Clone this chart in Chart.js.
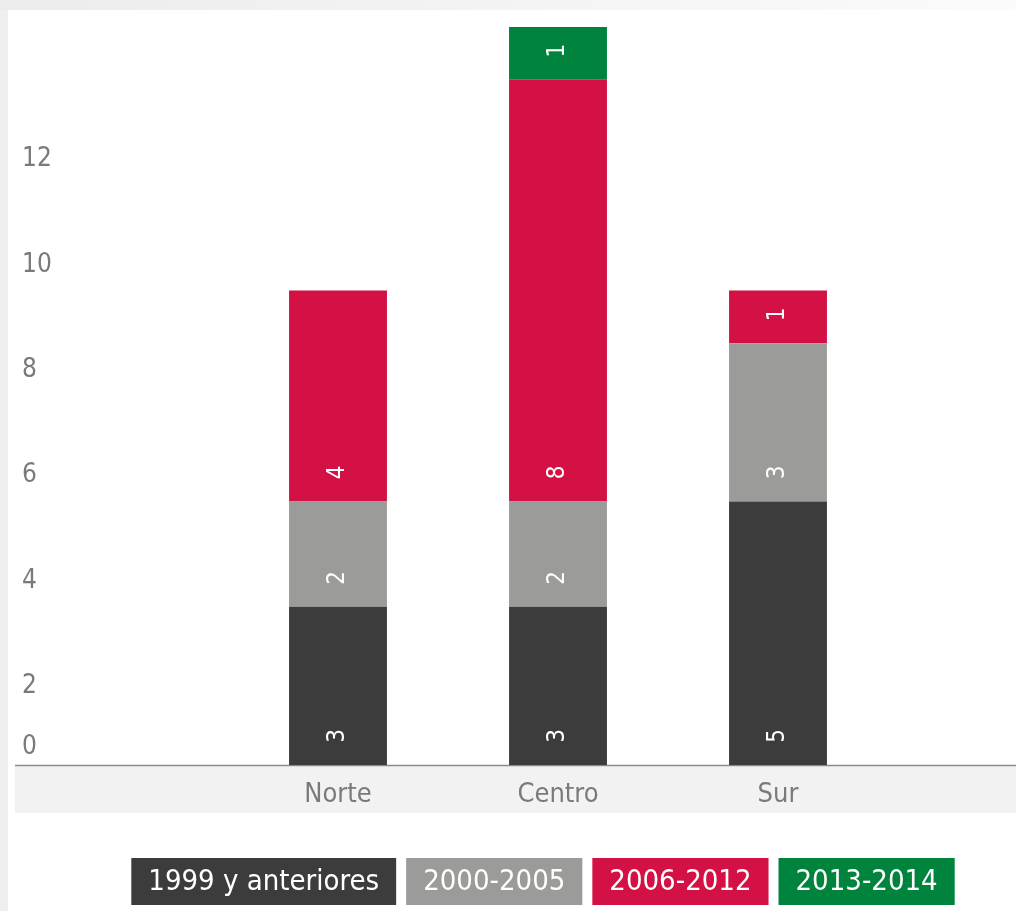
<!DOCTYPE html>
<html>
<head>
<meta charset="utf-8">
<script src="https://cdn.jsdelivr.net/npm/chart.js@4/dist/chart.umd.min.js"></script>
<style>
  html, body { margin: 0; padding: 0; background: #efefef; }
  #wrap { width: 1016px; height: 911px; }
</style>
</head>
<body>
<div id="wrap"><canvas id="regionChart"></canvas></div>
<script>
const categories = ['Norte', 'Centro', 'Sur'];
const seriesNames = ['1999 y anteriores', '2000-2005', '2006-2012', '2013-2014'];
const serie1999 = [3, 3, 5];
const serie2000 = [2, 2, 3];
const serie2006 = [4, 8, 1];
const serie2013 = [0, 1, 0];
const yTickLabels = [0, 2, 4, 6, 8, 10, 12];

const colors = ['#3b3c3b', '#9b9b9a', '#d31145', '#00843d'];
const fontFam = "'Liberation Sans Narrow', 'DejaVu Sans Condensed', 'Roboto Condensed', 'Open Sans', sans-serif";

// page background + x band + axis line
const backdrop = {
  id: 'backdrop',
  beforeDraw(chart) {
    const c = chart.ctx;
    const a = chart.chartArea;
    c.save();
    c.fillStyle = '#efefef';
    c.fillRect(0, 0, chart.width, chart.height);
    const g = c.createLinearGradient(0, 0, chart.width, 0);
    g.addColorStop(0, '#ececec');
    g.addColorStop(1, '#fbfbfb');
    c.fillStyle = g;
    c.fillRect(0, 0, chart.width, 10);
    c.fillStyle = '#ffffff';
    c.fillRect(8, 10, chart.width - 8, chart.height - 10);
    c.fillStyle = '#f2f2f2';
    c.fillRect(15, a.bottom, chart.width - 15, 48);
    c.strokeStyle = '#8a8a8a';
    c.lineWidth = 1.5;
    c.beginPath();
    c.moveTo(15, a.bottom + 0.5);
    c.lineTo(chart.width, a.bottom + 0.5);
    c.stroke();
    c.restore();
  }
};

// rotated value labels near base of each segment
const segLabels = {
  id: 'segLabels',
  afterDatasetsDraw(chart) {
    const c = chart.ctx;
    c.save();
    c.fillStyle = '#ffffff';
    c.font = '24px ' + fontFam;
    c.textAlign = 'center';
    c.textBaseline = 'middle';
    chart.data.datasets.forEach((ds, i) => {
      chart.getDatasetMeta(i).data.forEach((bar, j) => {
        const v = ds.data[j];
        if (!v) return;
        c.save();
        c.translate(bar.x, bar.base - 29);
        c.rotate(-Math.PI / 2);
        c.fillText(String(v), 0, 0);
        c.restore();
      });
    });
    c.restore();
  }
};

// boxed legend with text inside
const boxLegend = {
  id: 'boxLegend',
  afterDraw(chart) {
    const c = chart.ctx;
    c.save();
    c.font = '29px ' + fontFam;
    c.textAlign = 'center';
    c.textBaseline = 'middle';
    const pad = 17, gap = 10, top = 858, h = 47;
    const widths = chart.data.datasets.map(ds => c.measureText(ds.label).width + pad * 2);
    const total = widths.reduce((s, w) => s + w, 0) + gap * (widths.length - 1);
    let x = 543 - total / 2;
    chart.data.datasets.forEach((ds, i) => {
      c.fillStyle = ds.backgroundColor;
      c.fillRect(x, top, widths[i], h);
      c.fillStyle = '#ffffff';
      c.fillText(ds.label, x + widths[i] / 2, top + h / 2 + 1);
      x += widths[i] + gap;
    });
    c.restore();
  }
};

const ctx = document.getElementById('regionChart').getContext('2d');
const regionChart = new Chart(ctx, {
  type: 'bar',
  data: {
    labels: categories,
    datasets: [
      { label: seriesNames[0], data: serie1999, backgroundColor: colors[0] },
      { label: seriesNames[1], data: serie2000, backgroundColor: colors[1] },
      { label: seriesNames[2], data: serie2006, backgroundColor: colors[2] },
      { label: seriesNames[3], data: serie2013, backgroundColor: colors[3] }
    ]
  },
  options: {
    responsive: true,
    maintainAspectRatio: false,
    animation: false,
    layout: { padding: { top: 27, right: 128, bottom: 0, left: 22 } },
    datasets: { bar: { categoryPercentage: 1, barPercentage: 0.445 } },
    plugins: { legend: { display: false }, tooltip: { enabled: false } },
    scales: {
      x: {
        stacked: true,
        grid: { display: false },
        border: { display: false },
        ticks: { color: '#7a7a7a', font: { family: fontFam, size: 27 }, padding: 6 },
        afterFit(scale) { scale.height = 146; }
      },
      y: {
        stacked: true,
        min: 0,
        max: 14,
        grid: { display: false },
        border: { display: false },
        ticks: {
          color: '#7a7a7a',
          font: { family: fontFam, size: 26 },
          crossAlign: 'far',
          labelOffset: 27,
          callback: (v) => Math.round(v / 2) * 2
        },
        afterBuildTicks(scale) {
          // labels sit a little under their value; 0 squeezed above the axis
          scale.ticks = yTickLabels.map(v => ({ value: v === 0 ? 0.84 : v }));
        },
        afterFit(scale) { scale.width = 206; }
      }
    }
  },
  plugins: [backdrop, segLabels, boxLegend]
});
</script>
</body>
</html>
